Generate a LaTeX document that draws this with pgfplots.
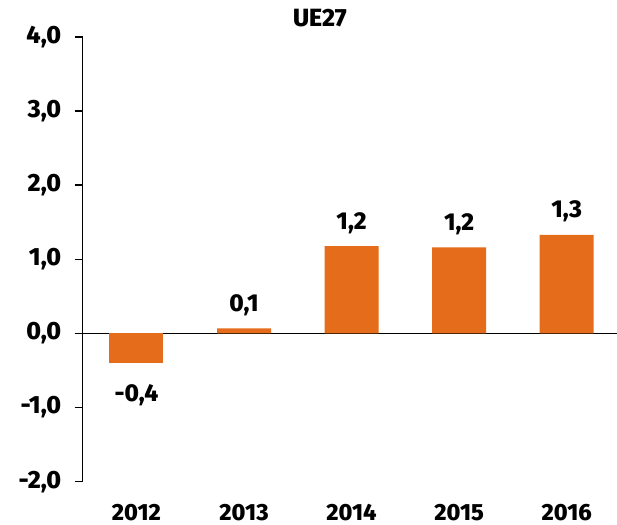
\documentclass[border=0pt]{standalone}
\usepackage{pgfplots}
\pgfplotsset{compat=1.18}
\usepackage{fontspec}
\setmainfont{Fira Sans}[BoldFont={Fira Sans ExtraBold}]
\definecolor{barorange}{HTML}{E46C1A}
\pgfplotstableread{
x y lab
1 0.07 {0,1}
2 1.18 {1,2}
3 1.16 {1,2}
4 1.33 {1,3}
}\pos
\pgfplotstableread{
x y lab
0 -0.40 {-0,4}
}\negt
\begin{document}
\begin{tikzpicture}
\useasboundingbox (-82.7bp,-43.3bp) rectangle (534.3bp,481.7bp);
\begin{axis}[
  at={(0,0)}, anchor=south west,
  scale only axis, width=534.3bp, height=444.7bp,
  xmin=-0.5, xmax=4.468, ymin=-2, ymax=4,
  axis y line=left, axis x line=bottom,
  axis line style={-, line width=1.5bp, black},
  x axis line style={draw=none},
  xtick={0,1,2,3,4},
  xticklabels={2012,2013,2014,2015,2016},
  xtick style={draw=none},
  ytick={-2,-1,0,1,2,3,4},
  yticklabels={{-2,0},{-1,0},{0,0},{1,0},{2,0},{3,0},{4,0}},
  tick align=outside,
  ytick style={line width=1.5bp, black},
  major tick length=8bp,
  yticklabel style={font=\bfseries\fontsize{25}{25}\selectfont, xshift=-10bp},
  xticklabel style={font=\bfseries\fontsize{23.5}{23.5}\selectfont, inner sep=0pt, yshift=-14bp},
  extra y ticks={0},
  extra y tick labels={},
  extra y tick style={grid=major, major grid style={black, line width=1.5bp}},
  title={\bfseries UE27},
  title style={at={(axis description cs:0.444,1.028)}, anchor=center, font=\bfseries\fontsize{25}{25}\selectfont},
  ybar, bar width=54bp, bar shift=0pt,
  clip=false,
]
\addplot[fill=barorange, draw=none,
  point meta=explicit symbolic, nodes near coords,
  every node near coord/.append style={font=\bfseries\fontsize{24.5}{24.5}\selectfont, black, anchor=south, yshift=9bp}]
  table[x=x, y=y, meta=lab] {\pos};
\addplot[fill=barorange, draw=none,
  point meta=explicit symbolic, nodes near coords,
  every node near coord/.append style={font=\bfseries\fontsize{24.5}{24.5}\selectfont, black, anchor=north, yshift=-18bp}]
  table[x=x, y=y, meta=lab] {\negt};
\end{axis}
\end{tikzpicture}
\end{document}
